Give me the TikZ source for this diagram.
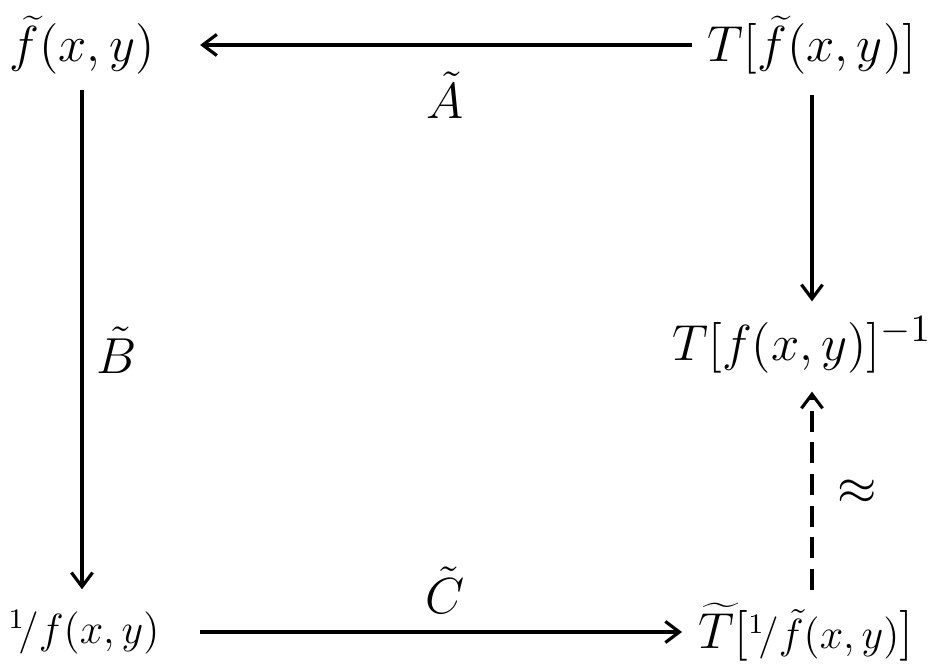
\documentclass[tikz,border=0pt]{standalone}
\usetikzlibrary{arrows.meta}
\begin{document}
\begin{tikzpicture}[x=0.01cm,y=-0.01cm,
  lbl/.style={inner sep=0pt, font=\fontsize{15}{18}\selectfont},
  small/.style={inner sep=0pt, font=\fontsize{12}{14}\selectfont},
  arr/.style={line width=0.9pt, -{Straight Barb[length=4pt,width=6pt]}},
]
\useasboundingbox (0,0) rectangle (930,671);
\node[lbl] (fxy) at (82,45) {$\widetilde{f}(x,y)$};
\node[lbl] (Tf) at (812,45) {$T[\widetilde{f}(x,y)]$};
\node[lbl] (Ti) at (802,345) {$T[f(x,y)]^{-1}$};
\node[small] (fB) at (84,632) {${}^{1}\!/f(x,y)$};
\node[lbl] (TB) at (806,632) {$\widetilde{T}[\mbox{\fontsize{12}{14}\selectfont${}^{1}\!/\tilde{f}(x,y)$}]$};
\node[lbl] (A) at (445,95) {$\tilde{A}$};
\node[lbl] (B) at (117,350) {$\tilde{B}$};
\node[lbl] (C) at (445,590) {$\tilde{C}$};
\node[lbl] (ap) at (857,492) {$\approx$};
\draw[arr, shorten >=0.45cm, shorten <=0.15cm] (Tf.west) -- (fxy.east);
\draw[arr, shorten <=0.4cm, shorten >=0.16cm] (fB.east) -- (TB.west);
\draw[arr, shorten <=0.15cm, shorten >=0.2cm] (fxy.south) -- (fxy.south |- fB.north);
\draw[arr, shorten <=0.2cm, shorten >=0.15cm] (Tf.south) -- (Tf.south |- Ti.north);
\draw[arr, dash pattern=on 6pt off 3pt, shorten <=0.12cm, shorten >=0.18cm] (TB.north -| Tf.south) -- (Tf.south |- Ti.south);
\end{tikzpicture}
\end{document}
